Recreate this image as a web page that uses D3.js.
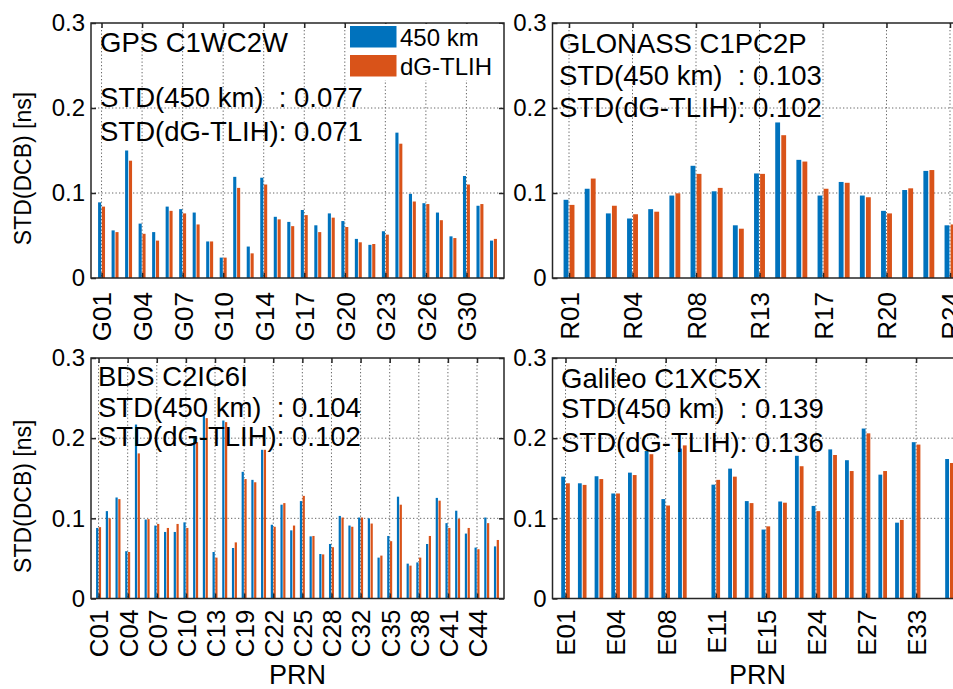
<!DOCTYPE html>
<html>
<head>
<meta charset="utf-8">
<script src="https://cdn.jsdelivr.net/npm/d3@7"></script>
<style>
  body { margin: 0; background: #fff; }
  svg { display: block; font-family: "Liberation Sans", Arial, Helvetica, sans-serif; }
  .ann { white-space: pre; }
</style>
</head>
<body>
<svg id="chart" width="953" height="689"></svg>
<script>
// ---- data ----
var seriesNames = ['450 km', 'dG-TLIH'];
var yTicks = [0, 0.1, 0.2, 0.3];

var gpsPrn = ['G01','G02','G03','G04','G05','G06','G07','G08','G09','G10','G12','G13','G14','G15','G16',
              'G17','G18','G19','G20','G21','G22','G23','G24','G25','G26','G27','G29','G30','G31','G32'];
var gps450 = [0.089,0.056,0.150,0.064,0.054,0.084,0.081,0.077,0.043,0.024,0.119,0.037,0.118,0.072,0.066,
              0.080,0.062,0.076,0.067,0.046,0.039,0.055,0.171,0.099,0.088,0.077,0.049,0.120,0.085,0.044];
var gpsTlih = [0.084,0.054,0.138,0.052,0.044,0.079,0.076,0.063,0.043,0.024,0.106,0.029,0.110,0.069,0.061,
               0.074,0.054,0.071,0.060,0.042,0.040,0.051,0.158,0.090,0.087,0.068,0.047,0.110,0.087,0.046];

var gloPrn = ['R01','R02','R03','R04','R05','R07','R08','R09','R11','R13','R14','R15','R17','R18','R19',
              'R20','R21','R22','R24'];
var glo450 = [0.092,0.105,0.076,0.070,0.081,0.097,0.132,0.102,0.062,0.123,0.183,0.139,0.097,0.113,0.097,
              0.079,0.1035,0.126,0.062];
var gloTlih = [0.086,0.117,0.085,0.075,0.078,0.0996,0.1225,0.106,0.058,0.1225,0.168,0.137,0.105,0.112,0.095,
               0.076,0.1055,0.127,0.063];

var bdsPrn = ['C01','C02','C03','C04','C05','C06','C07','C08','C09','C10','C11','C12','C13','C14','C16',
              'C19','C20','C21','C22','C23','C24','C25','C26','C27','C28','C29','C30','C32','C33','C34',
              'C35','C36','C37','C38','C39','C40','C41','C42','C43','C44','C45','C46'];
var bds450 = [0.088,0.109,0.126,0.059,0.217,0.0985,0.091,0.083,0.083,0.095,0.200,0.231,0.058,0.222,0.063,
              0.158,0.148,0.1855,0.092,0.117,0.085,0.1215,0.0775,0.0555,0.068,0.103,0.091,0.101,0.100,0.051,
              0.078,0.127,0.0435,0.045,0.068,0.1255,0.094,0.1095,0.081,0.0635,0.101,0.065];
var bdsTlih = [0.089,0.100,0.124,0.058,0.181,0.099,0.093,0.088,0.093,0.088,0.195,0.225,0.051,0.220,0.070,
               0.149,0.145,0.1855,0.0895,0.119,0.091,0.128,0.078,0.055,0.064,0.101,0.0895,0.101,0.0935,0.0535,
               0.0715,0.117,0.041,0.051,0.078,0.122,0.088,0.0995,0.088,0.0615,0.094,0.073];

var galPrn = ['E01','E02','E03','E04','E05','E07','E08','E09','E10','E11','E12','E13','E15','E19','E21',
              'E24','E25','E26','E27','E30','E31','E33','E34','E36'];
var gal450 = [0.152,0.1437,0.1525,0.131,0.157,0.184,0.124,0.187,null,0.142,0.162,0.1215,0.086,0.121,0.178,
              0.1155,0.186,0.1725,0.212,0.1545,0.0946,0.195,null,0.174];
var galTlih = [0.1437,0.1417,0.149,0.131,0.154,0.180,0.116,0.191,null,0.148,0.152,0.119,0.090,0.1195,0.165,
               0.109,0.179,0.159,0.206,0.159,0.098,0.192,null,0.169];

var titles = ['GPS C1WC2W', 'GLONASS C1PC2P', 'BDS C2IC6I', 'Galileo C1XC5X'];
var std450 = ['0.077', '0.103', '0.104', '0.139'];
var stdTlih = ['0.071', '0.102', '0.102', '0.136'];

// ---- layout ----
var colors = ['#0072BD', '#D95319'];
var axisColor = '#262626';
var pad = 0.78;
var svg = d3.select('#chart');

var panels = [
  {prn: gpsPrn, a: gps450, b: gpsTlih, left: 91, right: 504, top: 23, bottom: 278,
   textX: 100, lines: [52, 107, 141], ylabel: true, xlabel: false},
  {prn: gloPrn, a: glo450, b: gloTlih, left: 552.5, right: 966.5, top: 23, bottom: 278,
   textX: 559, lines: [53, 85, 117], ylabel: false, xlabel: false},
  {prn: bdsPrn, a: bds450, b: bdsTlih, left: 91, right: 504, top: 358, bottom: 598.5,
   textX: 98, lines: [386, 417, 446], ylabel: true, xlabel: true},
  {prn: galPrn, a: gal450, b: galTlih, left: 552.5, right: 962.5, top: 358, bottom: 598.5,
   textX: 561, lines: [388, 418, 452], ylabel: false, xlabel: true}
];

panels.forEach(function (p, k) {
  var n = p.prn.length;
  var x = d3.scaleLinear().domain([-pad, n - 1 + pad]).range([p.left, p.right]);
  var y = d3.scaleLinear().domain([0, 0.3]).range([p.bottom, p.top]);
  var tickIdx = d3.range(0, n, 3);

  var g = svg.append('g');

  // dotted grid
  var grid = g.append('g').attr('stroke', '#666').attr('stroke-width', 1).attr('stroke-dasharray', '1.3,2.2');
  grid.selectAll('line.gx').data(tickIdx).enter().append('line')
    .attr('x1', function (d) { return x(d); }).attr('x2', function (d) { return x(d); })
    .attr('y1', p.top).attr('y2', p.bottom);
  grid.selectAll('line.gy').data([0.1, 0.2]).enter().append('line')
    .attr('x1', p.left).attr('x2', p.right)
    .attr('y1', function (d) { return y(d); }).attr('y2', function (d) { return y(d); });

  // grouped bars
  var barG = g.append('g');
  [p.a, p.b].forEach(function (vals, s) {
    var off = s === 0 ? -0.257 : 0.029;
    var rows = vals.map(function (v, i) { return {i: i, v: v}; })
      .filter(function (d) { return d.v != null; });
    barG.selectAll('rect.s' + s).data(rows).enter().append('rect')
      .attr('class', 's' + s)
      .attr('x', function (d) { return x(d.i + off); })
      .attr('width', x(0.229) - x(0))
      .attr('y', function (d) { return y(d.v); })
      .attr('height', function (d) { return y(0) - y(d.v); })
      .attr('fill', colors[s]);
  });

  // annotation text
  var ann = [titles[k], 'STD(450 km)  : ' + std450[k], 'STD(dG-TLIH): ' + stdTlih[k]];
  g.append('g').selectAll('text').data(ann).enter().append('text')
    .attr('class', 'ann')
    .attr('x', p.textX)
    .attr('y', function (d, i) { return p.lines[i]; })
    .attr('font-size', 27.5)
    .attr('fill', '#000')
    .text(function (d) { return d; });

  // frame
  g.append('rect').attr('x', p.left).attr('y', p.top)
    .attr('width', p.right - p.left).attr('height', p.bottom - p.top)
    .attr('fill', 'none').attr('stroke', axisColor).attr('stroke-width', 1.5);

  // axes: inward ticks on all four sides
  var xb = d3.axisBottom(x).tickValues(tickIdx).tickSize(-5).tickPadding(0)
    .tickFormat(function (i) { return p.prn[i]; });
  var gxb = g.append('g').attr('transform', 'translate(0,' + p.bottom + ')').call(xb);
  gxb.select('.domain').remove();
  gxb.selectAll('line').attr('stroke', axisColor).attr('stroke-width', 1.5);
  gxb.selectAll('text')
    .attr('transform', 'rotate(-90)')
    .attr('x', p.top < 100 ? -14 : -11).attr('y', 0).attr('dy', '0.36em')
    .style('text-anchor', 'end')
    .attr('font-size', 26).attr('fill', '#000');

  var gxt = g.append('g').attr('transform', 'translate(0,' + p.top + ')')
    .call(d3.axisTop(x).tickValues(tickIdx).tickSize(-5).tickFormat(''));
  gxt.select('.domain').remove();
  gxt.selectAll('line').attr('stroke', axisColor).attr('stroke-width', 1.5);

  var yl = d3.axisLeft(y).tickValues(yTicks).tickSize(-5).tickPadding(6)
    .tickFormat(function (d) { return d === 0 ? '0' : d3.format('.1f')(d); });
  var gyl = g.append('g').attr('transform', 'translate(' + p.left + ',0)').call(yl);
  gyl.select('.domain').remove();
  gyl.selectAll('line').attr('stroke', axisColor).attr('stroke-width', 1.5);
  gyl.selectAll('text').attr('font-size', 24).attr('fill', '#000');

  var gyr = g.append('g').attr('transform', 'translate(' + p.right + ',0)')
    .call(d3.axisRight(y).tickValues(yTicks).tickSize(-5).tickFormat(''));
  gyr.select('.domain').remove();
  gyr.selectAll('line').attr('stroke', axisColor).attr('stroke-width', 1.5);

  if (p.ylabel) {
    var cy = (p.top + p.bottom) / 2 + 18;
    g.append('text').attr('transform', 'translate(31,' + cy + ') rotate(-90)')
      .attr('text-anchor', 'middle').attr('font-size', 23).attr('fill', '#000')
      .text('STD(DCB) [ns]');
  }
  if (p.xlabel) {
    g.append('text').attr('x', (p.left + p.right) / 2).attr('y', 684)
      .attr('text-anchor', 'middle').attr('font-size', 27).attr('fill', '#000')
      .text('PRN');
  }
});

// legend (GPS panel)
var lg = svg.append('g');
lg.append('rect').attr('x', 346).attr('y', 24).attr('width', 156).attr('height', 56).attr('fill', '#fff');
lg.selectAll('rect.sw').data(seriesNames).enter().append('rect')
  .attr('class', 'sw')
  .attr('x', 350).attr('y', function (d, i) { return i === 0 ? 26 : 55; })
  .attr('width', 46.5).attr('height', 21.5)
  .attr('fill', function (d, i) { return colors[i]; });
lg.selectAll('text').data(seriesNames).enter().append('text')
  .attr('x', 400).attr('y', function (d, i) { return i === 0 ? 46 : 75; })
  .attr('font-size', 24).attr('fill', '#000')
  .text(function (d) { return d; });
</script>
</body>
</html>
